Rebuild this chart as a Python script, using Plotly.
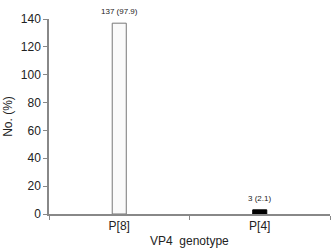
import plotly.graph_objects as go

genotypes = ["P[8]", "P[4]"]
counts = [137, 3]
percents = [97.9, 2.1]
labels = [f"{c} ({p})" for c, p in zip(counts, percents)]
fill_colors = ["#fafafa", "#000000"]
line_colors = ["#777777", "#000000"]

fig = go.Figure(go.Bar(
    x=genotypes, y=counts,
    width=0.1,
    marker=dict(color=fill_colors, line=dict(color=line_colors, width=1)),
    cliponaxis=False,
))

for g, c, lab in zip(genotypes, counts, labels):
    fig.add_annotation(x=g, y=c, text=lab, showarrow=False, yanchor="bottom",
                       yshift=5, font=dict(size=8, color="#222222"))

fig.add_annotation(xref="paper", yref="paper", x=0.5, y=-0.095, yanchor="top",
                   text="VP4  genotype", showarrow=False, borderpad=0,
                   font=dict(size=12, color="#222222"))

fig.update_layout(
    width=334, height=250,
    margin=dict(l=49, r=4, t=19, b=36),
    paper_bgcolor="white", plot_bgcolor="white",
    font=dict(family="Liberation Sans, Arial", color="#222222", size=12),
    showlegend=False,
    xaxis=dict(
        showline=True, linecolor="#888888", linewidth=1.5,
        ticks="outside", tickson="boundaries", ticklen=4, tickcolor="#888888",
        tickfont=dict(size=12), showgrid=False, automargin=False,
    ),
    yaxis=dict(
        range=[0, 140], tickvals=[0, 20, 40, 60, 80, 100, 120, 140],
        showline=True, linecolor="#888888", linewidth=1.5,
        ticks="outside", ticklen=4, tickcolor="#888888",
        tickfont=dict(size=12), showgrid=False, zeroline=False, automargin=False,
        title=dict(text="No. (%)", font=dict(size=12), standoff=6),
    ),
)

fig.write_html("out.html")
